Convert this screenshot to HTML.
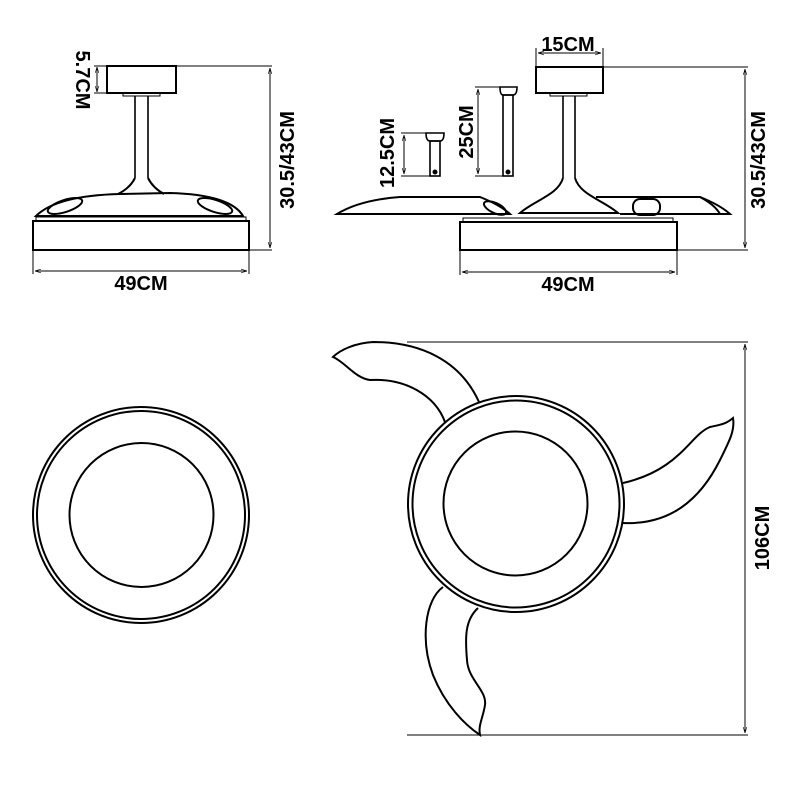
<!DOCTYPE html>
<html><head><style>
html,body{margin:0;padding:0;background:#fff;}
svg{display:block;}
text{font-family:"Liberation Sans",Arial,sans-serif;font-weight:bold;fill:#000;}
</style></head><body>
<svg width="800" height="800" viewBox="0 0 800 800" xmlns="http://www.w3.org/2000/svg">
<defs>
<marker id="a" viewBox="0 0 10 10" refX="10" refY="5" markerWidth="6" markerHeight="6" orient="auto-start-reverse"><path d="M0,2 L10,5 L0,8" fill="none" stroke="#000" stroke-width="1"/></marker>
</defs>
<g fill="none" stroke="#000" stroke-width="2">
<!-- TOP LEFT side view -->
<rect x="107" y="66" width="69" height="27"/>
<rect x="123" y="93" width="37" height="3" stroke-width="1"/>
<line x1="176" y1="66" x2="272" y2="66" stroke-width="1"/>
<line x1="249" y1="250" x2="272" y2="250" stroke-width="1"/>
<line x1="270" y1="68" x2="270" y2="248" stroke-width="1" marker-start="url(#a)" marker-end="url(#a)"/>
<line x1="97" y1="67" x2="97" y2="92" stroke-width="1" marker-start="url(#a)" marker-end="url(#a)"/>
<line x1="94" y1="66" x2="107" y2="66" stroke-width="1"/>
<line x1="94" y1="93" x2="107" y2="93" stroke-width="1"/>
<line x1="135" y1="96" x2="135" y2="178" stroke-width="1.6"/>
<line x1="148" y1="96" x2="148" y2="178" stroke-width="1.6"/>
<path d="M135,178 Q130,188 118,194 M148,178 Q153,188 164,194"/>
<path d="M36,216 C50,202 80,195 120,194 L170,193 C210,194 235,202 243,216 Z"/>
<ellipse cx="65" cy="206" rx="18" ry="6" transform="rotate(-18 65 206)"/>
<ellipse cx="215" cy="206" rx="18" ry="6" transform="rotate(18 215 206)"/>
<rect x="36" y="217" width="210" height="4" stroke-width="1"/>
<rect x="33" y="221" width="216" height="29"/>
<line x1="33" y1="250" x2="33" y2="274" stroke-width="1"/>
<line x1="249" y1="250" x2="249" y2="274" stroke-width="1"/>
<line x1="35" y1="271" x2="247" y2="271" stroke-width="1" marker-start="url(#a)" marker-end="url(#a)"/>

<!-- TOP RIGHT side view -->
<line x1="536" y1="48" x2="536" y2="67" stroke-width="1"/>
<line x1="603" y1="48" x2="603" y2="67" stroke-width="1"/>
<line x1="538" y1="53" x2="601" y2="53" stroke-width="1" marker-start="url(#a)" marker-end="url(#a)"/>
<rect x="536" y="67" width="67" height="26"/>
<line x1="603" y1="67" x2="748" y2="67" stroke-width="1"/>
<line x1="677" y1="250" x2="748" y2="250" stroke-width="1"/>
<line x1="745" y1="69" x2="745" y2="248" stroke-width="1" marker-start="url(#a)" marker-end="url(#a)"/>
<rect x="550" y="93" width="37" height="3" stroke-width="1"/>
<line x1="563" y1="96" x2="563" y2="178" stroke-width="1.6"/>
<line x1="575" y1="96" x2="575" y2="178" stroke-width="1.6"/>
<path d="M563,178 C558,195 535,200 520,213 L618,213 C603,200 580,195 575,178"/>
<path d="M337,214 Q360,200 400,197 L480,197 Q500,205 510,214 Z"/>
<ellipse cx="495" cy="208" rx="12" ry="5" transform="rotate(25 495 208)"/>
<path d="M596,197 L700,197 Q720,205 730,214 L620,214"/>
<path d="M700,197 Q715,205 720,214"/>
<rect x="633" y="199" width="27" height="16" rx="7"/>
<rect x="463" y="218" width="210" height="4" stroke-width="1"/>
<rect x="460" y="222" width="217" height="28"/>
<line x1="460" y1="250" x2="460" y2="275" stroke-width="1"/>
<line x1="677" y1="250" x2="677" y2="275" stroke-width="1"/>
<line x1="462" y1="272" x2="675" y2="272" stroke-width="1" marker-start="url(#a)" marker-end="url(#a)"/>
<!-- 25CM rod -->
<line x1="475" y1="87" x2="517" y2="87" stroke-width="1"/>
<line x1="475" y1="176" x2="503" y2="176" stroke-width="1"/>
<line x1="478" y1="89" x2="478" y2="174" stroke-width="1" marker-start="url(#a)" marker-end="url(#a)"/>
<path d="M500,87 L517,87 Q517,95 513,95 L503,95 Q500,95 500,87 Z" stroke-width="1.6"/>
<rect x="503" y="95" width="10" height="81" stroke-width="1.6"/>
<circle cx="508" cy="172" r="1.5" fill="#000"/>
<!-- 12.5CM rod -->
<line x1="401" y1="133" x2="444" y2="133" stroke-width="1"/>
<line x1="401" y1="176" x2="430" y2="176" stroke-width="1"/>
<line x1="404" y1="135" x2="404" y2="174" stroke-width="1" marker-start="url(#a)" marker-end="url(#a)"/>
<path d="M426,133 L444,133 Q444,141 440,141 L430,141 Q426,141 426,133 Z" stroke-width="1.6"/>
<rect x="430" y="141" width="10" height="35" stroke-width="1.6"/>
<circle cx="435" cy="172" r="1.5" fill="#000"/>

<!-- BOTTOM LEFT top view -->
<circle cx="141" cy="515" r="108"/>
<circle cx="141" cy="515" r="104"/>
<circle cx="141.5" cy="515" r="72"/>

<!-- BOTTOM RIGHT -->
<line x1="407" y1="342" x2="748" y2="342" stroke-width="1"/>
<line x1="407" y1="735" x2="748" y2="735" stroke-width="1"/>
<line x1="745" y1="344" x2="745" y2="733" stroke-width="1" marker-start="url(#a)" marker-end="url(#a)"/>
<circle cx="516" cy="504" r="108"/>
<circle cx="516" cy="504" r="103.5"/>
<circle cx="515.5" cy="503.5" r="72"/>
<path d="M479,402 C460,360 420,342 373,342 C355,343 340,350 333,357 C345,362 355,378 370,380 C405,378 435,395 445,422"/>
<path d="M623,523 C670,525 700,500 720,460 C730,440 735,430 733,418 C725,425 718,425 710,427 C690,435 680,470 623,483"/>
<path d="M443,587 C425,600 420,640 433,675 C445,705 465,725 480,735 C478,725 483,718 485,705 C487,690 468,680 467,660 C465,637 465,620 478,608"/>
</g>
<text x="141" y="290" font-size="20" text-anchor="middle">49CM</text>
<text x="568" y="291" font-size="20" text-anchor="middle">49CM</text>
<text x="568" y="51" font-size="20" text-anchor="middle">15CM</text>
<text transform="translate(76,80) rotate(90)" font-size="20" text-anchor="middle">5.7CM</text>
<text transform="translate(294,160) rotate(-90)" font-size="20" text-anchor="middle">30.5/43CM</text>
<text transform="translate(765,160) rotate(-90)" font-size="20" text-anchor="middle">30.5/43CM</text>
<text transform="translate(473,132) rotate(-90)" font-size="20" text-anchor="middle">25CM</text>
<text transform="translate(394,153) rotate(-90)" font-size="20" text-anchor="middle">12.5CM</text>
<text transform="translate(769,538) rotate(-90)" font-size="20" text-anchor="middle">106CM</text>
</svg>
</body></html>
